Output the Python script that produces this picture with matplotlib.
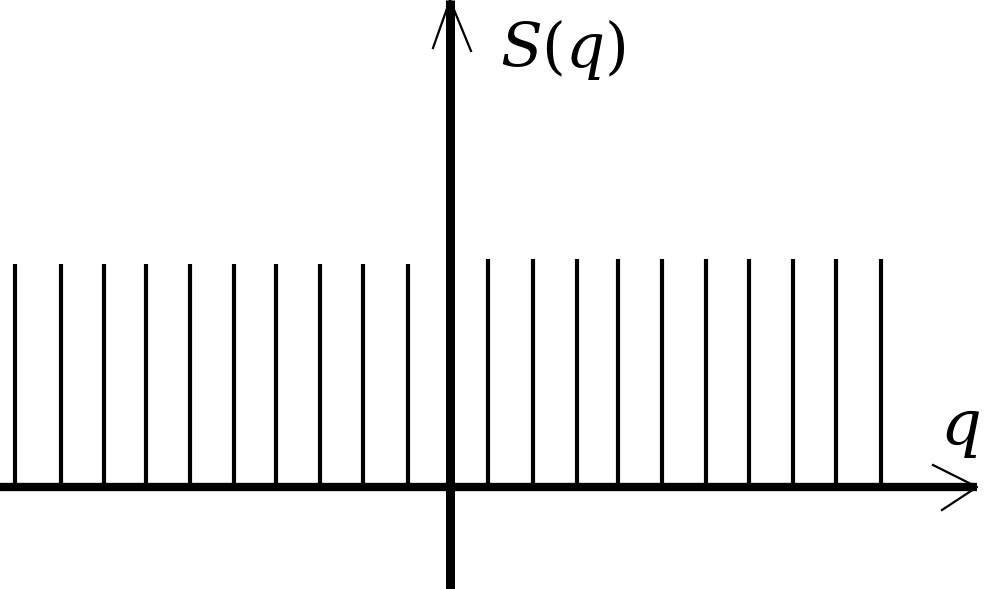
import matplotlib
matplotlib.use("Agg")
import matplotlib.pyplot as plt

# stem positions along q (origin at the vertical axis) and their heights
q_left = [-435, -389, -346, -304, -260, -216, -174, -130, -87, -42]
q_right = [38, 83, 127, 168, 212, 256, 299, 343, 386, 431]
h_left = 223
h_right = 228

fig = plt.figure(figsize=(10, 5.89), dpi=100)
ax = fig.add_axes([0, 0, 1, 1])
ax.set_xlim(-450, 550)
ax.set_ylim(-102, 487)
ax.axis("off")

# stems
ax.vlines(q_left, 0, h_left, color="black", lw=3)
ax.vlines(q_right, 0, h_right, color="black", lw=3)

# axes lines
ax.plot([-450, 527], [0, 0], color="black", lw=6, solid_capstyle="butt")
ax.plot([0, 0], [-102, 487], color="black", lw=6.5, solid_capstyle="butt")

# open arrow heads
ax.plot([483, 527, 492], [22, 0, -23], color="black", lw=1.6)
ax.plot([-17, 0, 21], [439, 487, 436], color="black", lw=1.6)

# labels
ax.text(50, 470, "$S(q)$", fontsize=44, ha="left", va="top",
        math_fontfamily="dejavuserif")
ax.text(490, 89, "$q$", fontsize=46, ha="left", va="top",
        math_fontfamily="dejavuserif")

fig.savefig("out.png", dpi=100)
